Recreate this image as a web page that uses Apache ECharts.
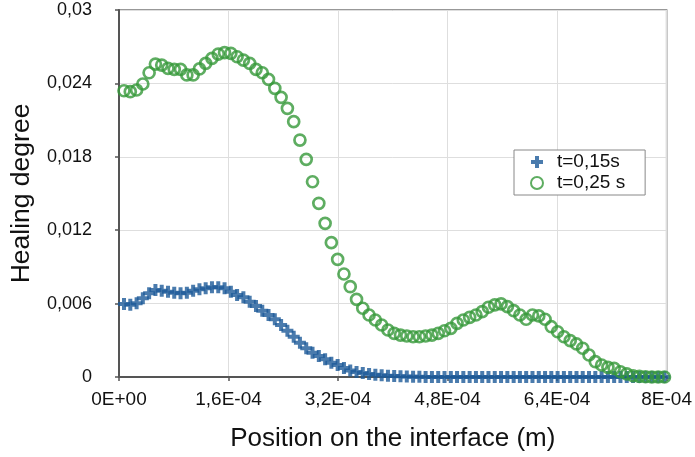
<!DOCTYPE html>
<html>
<head>
<meta charset="utf-8">
<script src="https://cdn.jsdelivr.net/npm/echarts@6/dist/echarts.min.js"></script>
<style>
html,body{margin:0;padding:0;background:#fff;}
#chart{width:695px;height:457px;}
</style>
</head>
<body>
<div id="chart"></div>
<script>
// Positions on the interface, micrometres
var positionUm = [7.3,16.5,25.7,34.8,44.0,53.2,62.4,71.6,80.7,89.9,99.1,108.3,117.5,126.6,135.8,145.0,154.2,163.4,172.5,181.7,190.9,200.1,209.3,218.4,227.6,236.8,246.0,255.2,264.3,273.5,282.7,291.9,301.1,310.2,319.4,328.6,337.8,347.0,356.1,365.3,374.5,383.7,392.9,402.0,411.2,420.4,429.6,438.8,447.9,457.1,466.3,475.5,484.7,493.8,503.0,512.2,521.4,530.6,539.7,548.9,558.1,567.3,576.5,585.6,594.8,604.0,613.2,622.4,631.5,640.7,649.9,659.1,668.3,677.4,686.6,695.8,705.0,714.2,723.3,732.5,741.7,750.9,760.1,769.2,778.4,787.6,796.8];

// t = 0,15 s
var healing015 = [0.00597,0.00590,0.00602,0.00643,0.00684,0.00711,0.00705,0.00697,0.00689,0.00684,0.00689,0.00705,0.00717,0.00725,0.00733,0.00733,0.00725,0.00697,0.00670,0.00651,0.00615,0.00580,0.00542,0.00507,0.00472,0.00425,0.00378,0.00329,0.00280,0.00235,0.00199,0.00172,0.00145,0.00117,0.00098,0.00074,0.00053,0.00041,0.00033,0.00025,0.00019,0.00014,0.00011,0.00008,0.00006,0.00004,0.00003,0.00002,0.00001,0,0,0,0,0,0,0,0,0,0,0,0,0,0,0,0,0,0,0,0,0,0,0,0,0,0,0,0,0,0,0,0,0,0,0,0,0,0];

// t = 0,25 s
var healing025 = [0.02340,0.02332,0.02346,0.02395,0.02487,0.02558,0.02550,0.02523,0.02515,0.02515,0.02469,0.02469,0.02518,0.02564,0.02605,0.02640,0.02651,0.02646,0.02618,0.02591,0.02564,0.02515,0.02487,0.02433,0.02360,0.02286,0.02196,0.02087,0.01937,0.01779,0.01596,0.01420,0.01256,0.01098,0.00962,0.00842,0.00738,0.00635,0.00562,0.00507,0.00466,0.00425,0.00384,0.00357,0.00343,0.00335,0.00329,0.00329,0.00335,0.00343,0.00357,0.00378,0.00398,0.00439,0.00466,0.00488,0.00507,0.00534,0.00570,0.00589,0.00597,0.00575,0.00542,0.00507,0.00472,0.00507,0.00499,0.00472,0.00411,0.00370,0.00329,0.00297,0.00270,0.00235,0.00180,0.00125,0.00098,0.00079,0.00071,0.00043,0.00025,0.00010,0.00005,0.00002,0,0,0];

var seriesNames = ['t=0,15s', 't=0,25 s'];
var xTickLabels = ['0E+00','1,6E-04','3,2E-04','4,8E-04','6,4E-04','8E-04'];
var yTickLabels = ['0','0,006','0,012','0,018','0,024','0,03'];

function pairs(vals){
  return vals.map(function(v,i){ return [positionUm[i]/1e6, v]; });
}

var chart = echarts.init(document.getElementById('chart'), null, {renderer:'canvas'});
var FONT = 'Liberation Sans, Arial, Helvetica, sans-serif';
var plusPath = 'path://M4,0 H8 V4 H12 V8 H8 V12 H4 V8 H0 V4 H4 Z';

chart.setOption({
  animation:false,
  backgroundColor:'#fff',
  textStyle:{fontFamily:FONT},
  grid:{left:118, right:24, top:10, bottom:80, show:true, borderColor:'#777', borderWidth:1.5},
  legend:{
    orient:'vertical',
    left:514, top:150,
    padding:[2,20,2,16],
    borderColor:'#888', borderWidth:1, borderRadius:0,
    backgroundColor:'#fff',
    itemWidth:30, itemHeight:12, itemGap:1,
    textStyle:{fontSize:19, color:'#111', fontFamily:FONT, lineHeight:20},
    data:[{name:seriesNames[0]},{name:seriesNames[1]}]
  },
  xAxis:{
    type:'value', min:0, max:8e-4, interval:1.6e-4,
    name:'Position on the interface (m)', nameLocation:'middle', nameGap:49,
    nameTextStyle:{fontSize:26, color:'#111', fontFamily:FONT},
    axisLine:{show:true, lineStyle:{color:'#555', width:2}},
    axisTick:{show:true, length:4, inside:false, lineStyle:{color:'#555', width:1.5}},
    axisLabel:{fontSize:19, color:'#111', margin:13, fontFamily:FONT,
      formatter:function(v){ return xTickLabels[Math.round(v/1.6e-4)]; }},
    splitLine:{show:true, lineStyle:{color:'#dedede', width:1}}
  },
  yAxis:{
    type:'value', min:0, max:0.03, interval:0.006,
    name:'Healing degree', nameLocation:'middle', nameGap:84, nameRotate:90,
    nameTextStyle:{fontSize:26.5, color:'#111', fontFamily:FONT},
    axisLine:{show:true, lineStyle:{color:'#555', width:2}},
    axisTick:{show:true, length:4, inside:false, lineStyle:{color:'#555', width:1.5}},
    axisLabel:{fontSize:18, color:'#111', margin:27, fontFamily:FONT,
      formatter:function(v){ return yTickLabels[Math.round(v/0.006)]; }},
    splitLine:{show:true, lineStyle:{color:'#dedede', width:1}}
  },
  series:[
    {
      name:seriesNames[0], type:'scatter', data:pairs(healing015),
      symbol:plusPath, symbolSize:12,
      itemStyle:{color:'#1d5a98'}, z:3
    },
    {
      name:seriesNames[1], type:'scatter', data:pairs(healing025),
      symbol:'circle', symbolSize:11,
      itemStyle:{color:'rgba(255,255,255,0)', borderColor:'#36993a', borderWidth:2.7}, z:4
    }
  ]
});
</script>
</body>
</html>
